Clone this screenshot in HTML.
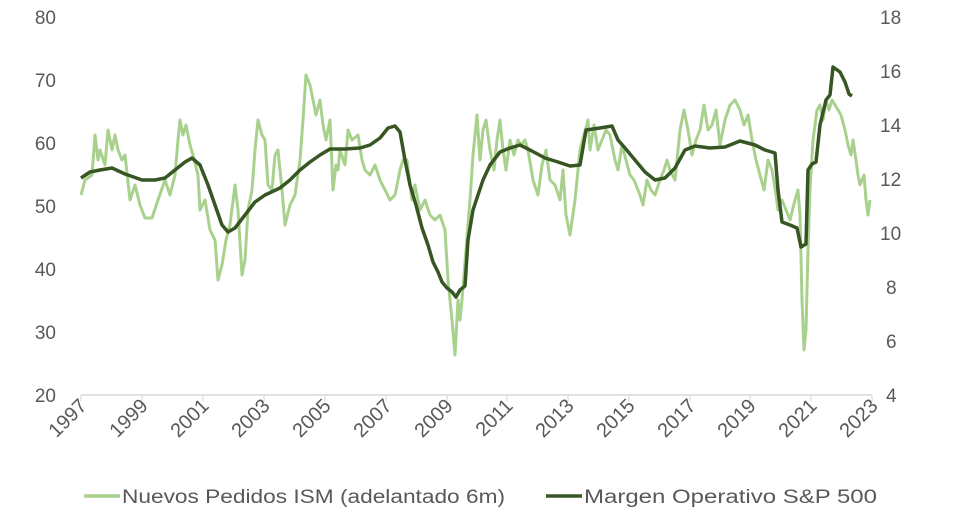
<!DOCTYPE html>
<html><head><meta charset="utf-8"><style>
html,body{margin:0;padding:0;background:#fff;}
svg{display:block;}
text{font-family:"Liberation Sans",sans-serif;fill:#595959;font-size:19px;}
.yr{font-size:20px;}
</style></head><body>
<svg width="974" height="532" viewBox="0 0 974 532">
<g text-anchor="end">
<text x="56" y="24">80</text><text x="56" y="87">70</text><text x="56" y="150">60</text>
<text x="56" y="213">50</text><text x="56" y="276">40</text><text x="56" y="339">30</text><text x="56" y="402">20</text>
</g>
<g text-anchor="start">
<text x="880" y="24">18</text><text x="880" y="78">16</text><text x="880" y="132">14</text>
<text x="880" y="186">12</text><text x="880" y="240">10</text><text x="886" y="294">8</text><text x="886" y="348">6</text><text x="886" y="402">4</text>
</g>
<line x1="81" y1="395" x2="872" y2="395" stroke="#d9d9d9" stroke-width="1.5"/>
<g stroke="#d9d9d9" stroke-width="1.2">
<line x1="81" y1="395" x2="81" y2="401"/><line x1="142" y1="395" x2="142" y2="401"/><line x1="203" y1="395" x2="203" y2="401"/><line x1="264" y1="395" x2="264" y2="401"/><line x1="325" y1="395" x2="325" y2="401"/><line x1="386" y1="395" x2="386" y2="401"/><line x1="447" y1="395" x2="447" y2="401"/><line x1="507" y1="395" x2="507" y2="401"/><line x1="568" y1="395" x2="568" y2="401"/><line x1="629" y1="395" x2="629" y2="401"/><line x1="690" y1="395" x2="690" y2="401"/><line x1="750" y1="395" x2="750" y2="401"/><line x1="811" y1="395" x2="811" y2="401"/><line x1="872" y1="395" x2="872" y2="401"/>
</g>
<g text-anchor="end" class="yr">
<text class="yr" transform="translate(88,407) rotate(-45)">1997</text>
<text class="yr" transform="translate(149,407) rotate(-45)">1999</text>
<text class="yr" transform="translate(210,407) rotate(-45)">2001</text>
<text class="yr" transform="translate(271,407) rotate(-45)">2003</text>
<text class="yr" transform="translate(332,407) rotate(-45)">2005</text>
<text class="yr" transform="translate(393,407) rotate(-45)">2007</text>
<text class="yr" transform="translate(454,407) rotate(-45)">2009</text>
<text class="yr" transform="translate(514,407) rotate(-45)">2011</text>
<text class="yr" transform="translate(575,407) rotate(-45)">2013</text>
<text class="yr" transform="translate(636,407) rotate(-45)">2015</text>
<text class="yr" transform="translate(697,407) rotate(-45)">2017</text>
<text class="yr" transform="translate(757,407) rotate(-45)">2019</text>
<text class="yr" transform="translate(818,407) rotate(-45)">2021</text>
<text class="yr" transform="translate(879,407) rotate(-45)">2023</text>
</g>
<polyline fill="none" stroke="#a9d18e" stroke-width="3" stroke-linejoin="round" points="81,195 85,180 92,175 95,135 98,160 100,150 105,165 108,130 112,150 115,135 118,150 122,160 125,155 130,200 135,185 140,205 145,218 152,218 158,200 165,180 170,195 175,175 178,140 180,120 183,135 186,125 190,145 193,155 198,175 200,210 205,200 210,230 215,240 218,280 222,265 226,240 230,225 235,185 238,210 242,275 245,260 248,210 252,190 255,150 258,120 262,135 265,140 268,185 272,190 275,155 278,150 282,190 285,225 290,205 295,195 300,160 303,120 306,75 310,85 313,100 316,115 320,100 323,125 326,140 330,120 333,190 336,165 338,170 340,150 345,165 348,130 352,140 358,135 362,160 365,170 370,175 375,165 380,180 385,190 390,200 395,195 400,170 403,160 407,160 412,200 415,185 420,210 425,200 430,215 435,220 440,215 445,230 448,280 452,320 455,355 458,300 460,320 462,300 466,250 470,200 473,155 477,115 480,160 483,130 486,120 490,150 494,170 497,140 500,120 503,150 506,170 510,140 514,155 518,140 521,145 525,140 528,150 533,180 538,195 542,165 546,150 550,180 555,185 560,200 563,170 566,215 570,235 575,200 580,150 584,135 588,120 590,150 594,125 598,150 602,140 606,130 610,135 615,160 618,170 622,145 626,160 630,175 634,180 640,195 643,205 647,180 651,190 655,195 660,180 664,170 667,160 670,170 675,180 680,130 684,110 688,130 692,155 696,140 700,130 704,105 708,130 712,125 716,110 720,145 725,120 730,105 735,100 740,110 744,125 748,115 752,140 756,160 760,175 764,190 768,160 772,170 776,195 778,210 782,200 786,210 790,220 795,200 798,190 800,215 802,300 804,350 806,330 808,250 810,190 813,140 817,110 820,105 823,120 826,100 829,110 832,100 835,105 838,110 841,115 845,130 848,145 851,155 853,140 856,160 858,175 860,185 864,175 866,200 868,215 870,200"/>
<polyline fill="none" stroke="#375623" stroke-width="3.5" stroke-linejoin="round" points="81,178 90,172 100,170 112,168 125,174 142,180 155,180 165,178 175,170 185,162 192,158 200,165 208,185 215,205 222,225 228,232 235,228 245,215 255,202 265,195 280,188 290,180 300,170 310,162 320,155 330,149 345,149 360,148 370,145 380,138 388,128 395,126 400,132 405,160 410,185 416,205 422,228 428,245 433,262 438,272 442,282 447,288 452,292 456,297 460,290 465,286 468,240 473,210 478,195 483,180 490,165 500,152 510,148 520,145 530,150 545,158 558,162 570,166 580,165 586,130 600,128 612,126 618,140 625,148 635,160 645,172 655,180 665,178 675,168 685,150 695,146 710,148 725,147 740,141 755,145 765,150 775,153 778,190 782,222 790,225 797,228 801,247 806,244 808,170 812,164 816,162 820,125 826,100 830,95 833,67 840,72 845,82 849,94 852,96"/>
<line x1="84" y1="496" x2="120" y2="496" stroke="#a9d18e" stroke-width="3.5"/>
<text x="122" y="503" textLength="383" lengthAdjust="spacingAndGlyphs">Nuevos Pedidos ISM (adelantado 6m)</text>
<line x1="546" y1="496" x2="582" y2="496" stroke="#375623" stroke-width="3.5"/>
<text x="584" y="503" textLength="293" lengthAdjust="spacingAndGlyphs">Margen Operativo S&amp;P 500</text>
</svg>
</body></html>
